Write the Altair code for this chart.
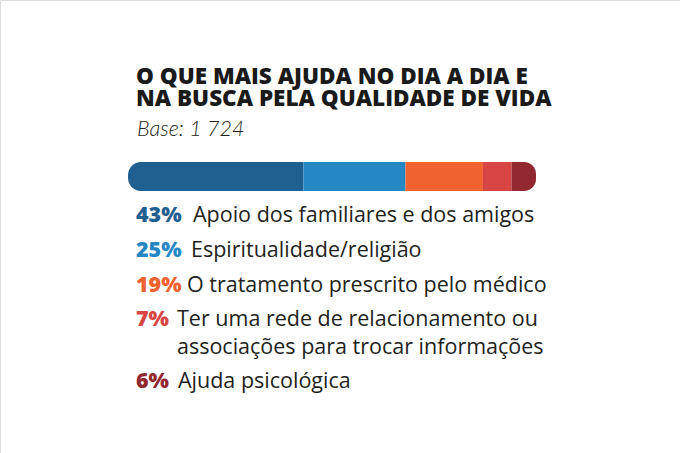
import altair as alt
import pandas as pd

# ---- data ----
categories = [
    "Apoio dos familiares e dos amigos",
    "Espiritualidade/religião",
    "O tratamento prescrito pelo médico",
    "Ter uma rede de relacionamento ou\nassociações para trocar informações",
    "Ajuda psicológica",
]
values = [43, 25, 19, 7, 6]
colors = ["#1F6091", "#2687C5", "#F06230", "#D74545", "#932930"]
title_lines = ["O QUE MAIS AJUDA NO DIA A DIA E", "NA BUSCA PELA QUALIDADE DE VIDA"]
subtitle = "Base: 1 724"

# ---- layout (styling only) ----
row_baseline = [222, 257, 292, 326, 388]
label_x = [193, 191, 187, 177, 178]
FONT = "Open Sans"

starts, ends, acc = [], [], 0
for v in values:
    starts.append(acc)
    acc += v
    ends.append(acc)

df = pd.DataFrame({
    "cat": categories,
    "val": values,
    "start": starts,
    "end": ends,
    "idx": list(range(len(values))),
    "pct": [f"{v}%" for v in values],
    "ybase": row_baseline,
    "lx": label_x,
})

color = alt.Color("cat:N", scale=alt.Scale(domain=categories, range=colors), legend=None)
xs = alt.Scale(domain=[0, 100], range=[128, 536])

base = alt.Chart(df)

def seg(filter_expr, **radius):
    return base.transform_filter(filter_expr).mark_bar(**radius).encode(
        x=alt.X("start:Q", scale=xs, axis=None),
        x2="end:Q",
        y=alt.value(162),
        y2=alt.value(191),
        color=color,
    )

first = seg("datum.idx == 0", cornerRadiusTopLeft=13, cornerRadiusBottomLeft=13)
middle = seg("datum.idx > 0 && datum.idx < 4")
last = seg("datum.idx == 4", cornerRadiusTopRight=12, cornerRadiusBottomRight=12)

pct_text = base.mark_text(
    align="left", baseline="alphabetic", font=FONT, fontSize=21.5, fontWeight=800
).encode(
    x=alt.value(136),
    y=alt.Y("ybase:Q", scale=None),
    text="pct:N",
    color=color,
)

label_text = base.mark_text(
    align="left", baseline="alphabetic", font=FONT, fontSize=21.5,
    color="#231F20", lineBreak="\n", lineHeight=28,
).encode(
    x=alt.X("lx:Q", scale=None),
    y=alt.Y("ybase:Q", scale=None),
    text="cat:N",
)

title_text = alt.Chart(pd.DataFrame({"t": title_lines, "ty": [84, 106]})).mark_text(
    align="left", baseline="alphabetic", font=FONT, fontSize=22.5, fontWeight=800,
    color="#1A1A1A",
).encode(x=alt.value(136), y=alt.Y("ty:Q", scale=None), text="t:N")

sub_text = alt.Chart(pd.DataFrame({"t": [subtitle]})).mark_text(
    align="left", baseline="alphabetic", font="Lato", fontSize=21.5, fontStyle="italic",
    fontWeight=300, color="#231F20",
).encode(x=alt.value(137), y=alt.value(136), text="t:N")

chart = alt.layer(first, middle, last, pct_text, label_text, title_text, sub_text).properties(
    width=680, height=453, padding=0, autosize=alt.AutoSizeParams(type="none")
).configure_view(stroke=None).configure(background="white")

chart.save("out.html", embed_options={"renderer": "svg", "actions": False})
